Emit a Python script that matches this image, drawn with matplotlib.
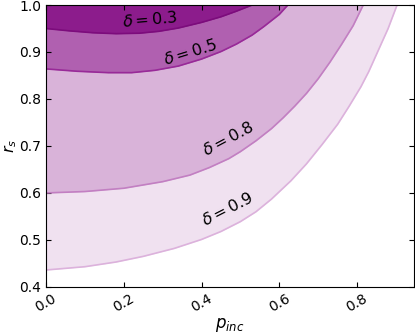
import matplotlib
matplotlib.use("Agg")
import matplotlib.pyplot as plt

# curves r_s(p_inc), one per delta level
x_d03 = [0.00, 0.06, 0.12, 0.18, 0.24, 0.29, 0.34, 0.40, 0.45, 0.49, 0.53]
y_d03 = [0.950, 0.945, 0.941, 0.939, 0.940, 0.944, 0.951, 0.963, 0.975, 0.987, 1.000]

x_d05 = [0.00, 0.08, 0.16, 0.22, 0.28, 0.34, 0.40, 0.45, 0.49, 0.53, 0.56, 0.60, 0.622]
y_d05 = [0.864, 0.859, 0.856, 0.856, 0.861, 0.870, 0.885, 0.901, 0.917, 0.936, 0.954, 0.980, 1.000]

x_d08 = [0.00, 0.10, 0.20, 0.30, 0.37, 0.42, 0.47, 0.50, 0.54, 0.58, 0.61, 0.64,
         0.67, 0.70, 0.73, 0.76, 0.79, 0.816]
y_d08 = [0.600, 0.603, 0.610, 0.624, 0.638, 0.654, 0.673, 0.688, 0.711, 0.737, 0.760, 0.785,
         0.812, 0.843, 0.878, 0.916, 0.956, 1.000]

x_d09 = [0.00, 0.10, 0.18, 0.25, 0.33, 0.40, 0.45, 0.50, 0.54, 0.58, 0.63, 0.67,
         0.71, 0.75, 0.78, 0.81, 0.83, 0.855, 0.88, 0.903]
y_d09 = [0.436, 0.443, 0.453, 0.465, 0.482, 0.501, 0.518, 0.539, 0.560, 0.587, 0.626, 0.662,
         0.703, 0.746, 0.785, 0.826, 0.858, 0.904, 0.950, 1.000]

levels = ["0.9", "0.8", "0.5", "0.3"]
curves = [(x_d09, y_d09), (x_d08, y_d08), (x_d05, y_d05), (x_d03, y_d03)]
fill_colors = ["#f0e1f0", "#d9b3d9", "#b060b0", "#8c1c8c"]
line_colors = ["#dcb2dc", "#c27fc2", "#982a98", "#7c0c7c"]

# label positions (data coords) and rotation in degrees
label_pos = {"0.3": (0.268, 0.968, 5), "0.5": (0.371, 0.900, 17),
             "0.8": (0.468, 0.715, 28), "0.9": (0.468, 0.566, 27)}

fig = plt.figure(figsize=(4.15, 3.34), dpi=100)
ax = fig.add_axes([0.111, 0.141, 0.887, 0.844])

for lev, (xs, ys), fc, lc in zip(levels, curves, fill_colors, line_colors):
    ax.fill_between(xs, ys, 1.0, color=fc, lw=0)
    ax.plot(xs, ys, color=lc, lw=1.2)

for lev, (tx, ty, rot) in label_pos.items():
    ax.text(tx, ty, r"$\delta=%s$" % lev, fontsize=11.5, rotation=rot,
            ha="center", va="center", rotation_mode="anchor")

ax.set_xlim(0, 0.947)
ax.set_ylim(0.4, 1.0)
ax.set_xticks([0.0, 0.2, 0.4, 0.6, 0.8])
ax.set_yticks([0.4, 0.5, 0.6, 0.7, 0.8, 0.9, 1.0])
ax.tick_params(direction="in", top=True, right=True, labelsize=10)
for lab in ax.get_xticklabels():
    lab.set_rotation(30)
ax.set_xlabel(r"$p_{inc}$", fontsize=12, labelpad=1)
ax.set_ylabel(r"$r_s$", fontsize=11.5, labelpad=0)

fig.savefig("out.png", dpi=100)
